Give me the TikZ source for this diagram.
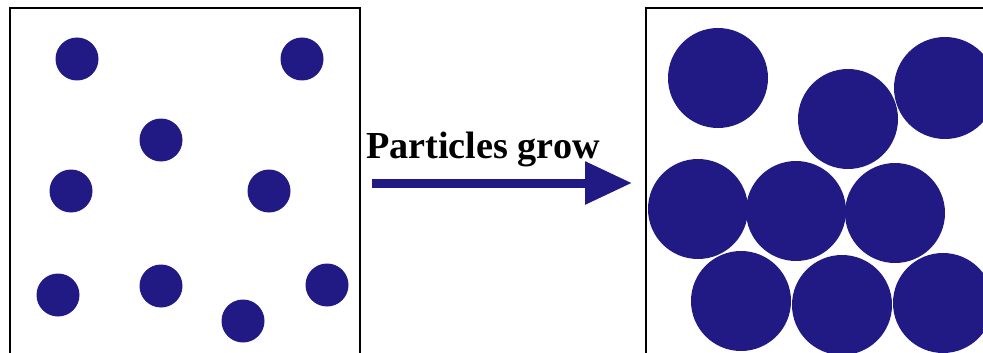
\documentclass[tikz,border=0pt]{standalone}
\usepackage{fontspec}
\setmainfont{Liberation Serif}
\usetikzlibrary{arrows.meta}
\definecolor{grain}{RGB}{33,25,132}

\begin{document}
\begin{tikzpicture}[x=1pt, y=-1pt]
    \useasboundingbox (0, 0) rectangle (983, 353);
    \clip (0, 0) rectangle (983, 353);

    % Before: small scattered particles
    \draw[line width=1.6pt] (10, 370) -- (10, 8) -- (360, 8) -- (360, 370);
    \fill[grain] (77, 59) circle (21.5pt);
    \fill[grain] (302, 59) circle (21.5pt);
    \fill[grain] (161, 140) circle (21.5pt);
    \fill[grain] (71, 191) circle (21.5pt);
    \fill[grain] (269, 191) circle (21.5pt);
    \fill[grain] (58, 295) circle (21.5pt);
    \fill[grain] (161, 286) circle (21.5pt);
    \fill[grain] (243, 321) circle (21.5pt);
    \fill[grain] (327, 285) circle (21.5pt);

    % Growth step
    \node[font=\bfseries\fontsize{38.2}{42}\selectfont, anchor=base west, inner sep=0pt] (label) at (366, 158) {Particles grow};
    \coordinate (start) at (372, 183);
    \coordinate (tip) at (632, 183);
    \draw[grain, line width=9pt, -{Triangle[length=47pt, width=41pt]}] (start) -- (tip);

    % After: large packed particles
    \draw[line width=1.6pt] (646, 370) -- (646, 8) -- (1000, 8);
    \fill[grain] (718, 78) circle (50pt);
    \fill[grain] (848, 119) circle (50pt);
    \fill[grain] (945, 88) circle (51pt);
    \fill[grain] (698, 209) circle (50pt);
    \fill[grain] (796, 211) circle (50pt);
    \fill[grain] (895, 213) circle (50pt);
    \fill[grain] (741, 301) circle (50pt);
    \fill[grain] (842, 305) circle (50pt);
    \fill[grain] (943, 303) circle (50pt);
\end{tikzpicture}
\end{document}
